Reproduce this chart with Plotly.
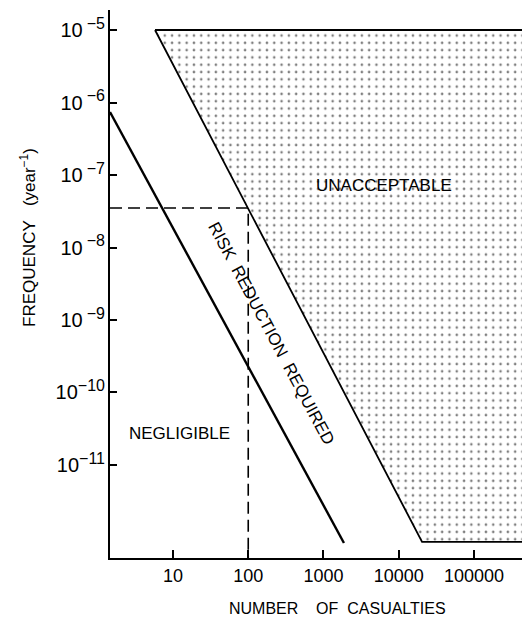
import plotly.graph_objects as go

# ---- data ----
x_tick_vals = [10, 100, 1000, 10000, 100000]
x_tick_text = ["10", "100", "1000", "10000", "100000"]
y_tick_exps = [-5, -6, -7, -8, -9, -10, -11]

negligible_x = [1.456, 1870]
negligible_y = [7.4e-7, 8.4e-13]

unacceptable_x = [5.77, 20400, 1e7, 1e7, 5.77]
unacceptable_y = [1e-5, 8.7e-13, 8.7e-13, 1e-5, 1e-5]

dashed_x = [1.456, 100, 100]
dashed_y = [3.5e-8, 3.5e-8, 1e-14]

x_range_log = [0.163, 5.638]
y_range_log = [-12.283, -4.724]

FONT = "Liberation Sans, Arial, sans-serif"
NB = "\u00a0"


def exp_label(e):
    gap = "\u2009" if abs(e) < 10 else ""
    return "10" + gap + "<sup><span style='font-size:16px'>\u2212%d</span></sup>" % (-e)


fig = go.Figure()

fig.add_trace(go.Scatter(
    x=unacceptable_x, y=unacceptable_y, mode="lines", fill="toself",
    fillcolor="white",
    fillpattern=dict(shape=".", size=7.3, solidity=0.1, fgcolor="black", bgcolor="white"),
    line=dict(color="black", width=1.8), hoverinfo="skip", showlegend=False))

fig.add_trace(go.Scatter(
    x=negligible_x, y=negligible_y, mode="lines",
    line=dict(color="black", width=2.4), hoverinfo="skip", showlegend=False))

fig.add_trace(go.Scatter(
    x=dashed_x, y=dashed_y, mode="lines",
    line=dict(color="black", width=1.6, dash="12px,6px"), hoverinfo="skip", showlegend=False))

fig.update_layout(
    width=522, height=618,
    margin=dict(l=110, r=0, t=10, b=60),
    plot_bgcolor="white", paper_bgcolor="white",
    font=dict(family=FONT, size=17, color="black"),
    showlegend=False,
)

fig.update_xaxes(
    type="log", range=x_range_log, showgrid=False, zeroline=False,
    showline=True, linecolor="black", linewidth=2,
    tickmode="array", tickvals=x_tick_vals, ticktext=x_tick_text,
    ticks="inside", ticklen=8, tickwidth=2, tickcolor="black",
    tickfont=dict(family=FONT, size=18),
)
fig.update_yaxes(
    type="log", range=y_range_log, showgrid=False, zeroline=False,
    showline=True, linecolor="black", linewidth=2,
    tickmode="array", tickvals=[10.0 ** e for e in y_tick_exps],
    ticktext=[exp_label(e) for e in y_tick_exps],
    ticks="inside", ticklen=7, tickwidth=2, tickcolor="black",
    tickfont=dict(family=FONT, size=20), ticklabelstandoff=-1,
)

ann = [
    dict(text="UNACCEPTABLE", x=3.804, y=-7.138, xref="x", yref="y", showarrow=False,
         font=dict(size=17, family=FONT)),
    dict(text="NEGLIGIBLE", x=1.093, y=-10.572, xref="x", yref="y", showarrow=False,
         font=dict(size=17, family=FONT)),
    dict(text="RISK" + NB * 2 + "REDUCTION" + NB * 2 + "REQUIRED", x=2.302, y=-9.193, xref="x", yref="y",
         showarrow=False, textangle=62, font=dict(size=17, family=FONT)),
    dict(text="FREQUENCY" + NB * 3 + "(year<sup>\u22121</sup>)", x=-0.199, y=0.584,
         xref="paper", yref="paper", xanchor="center", yanchor="middle",
         showarrow=False, textangle=-90, font=dict(size=17, family=FONT)),
    dict(text="NUMBER" + NB * 4 + "OF" + NB * 2 + "CASUALTIES", x=0.552, y=-0.092,
         xref="paper", yref="paper", xanchor="center", yanchor="middle",
         showarrow=False, font=dict(size=16, family=FONT)),
]
fig.update_layout(annotations=ann)

fig.write_html("out.html", config={"displayModeBar": False},
               post_script="document.body.style.margin='0';document.body.style.padding='0';")
